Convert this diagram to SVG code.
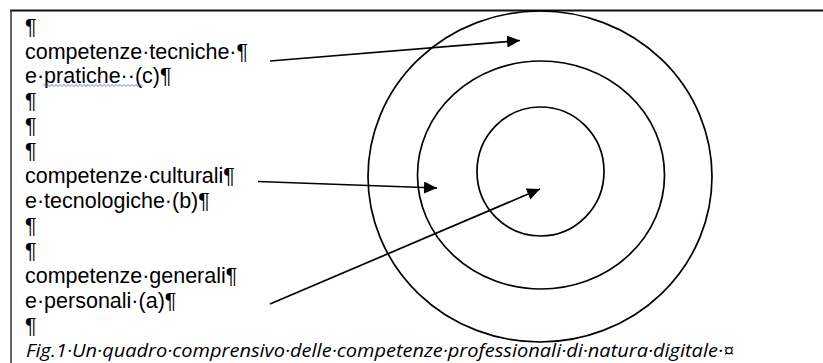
<svg xmlns="http://www.w3.org/2000/svg" width="823" height="363" viewBox="0 0 823 363">
<style>
.t{font-family:"Liberation Sans",Arial,sans-serif;font-size:21.5px;fill:#000}
.cap{font-family:"Open Sans","Liberation Sans",sans-serif;font-style:italic;font-size:19px;fill:#000}
.ring{fill:none;stroke:#000;stroke-width:1.7}
.arr{fill:none;stroke:#000;stroke-width:1.7;marker-end:url(#ah)}
</style>
<defs>
<marker id="ah" markerWidth="14" markerHeight="12" refX="13" refY="6" orient="auto" markerUnits="userSpaceOnUse">
<path d="M0,0 L13,6 L0,12 Z" fill="#000"/>
</marker>
</defs>
<rect width="823" height="363" fill="#fff"/>
<g id="frame">
<line x1="10" y1="10.5" x2="823" y2="10.5" stroke="#111" stroke-width="2"/>
<line x1="11" y1="10" x2="11" y2="363" stroke="#333" stroke-width="1.5"/>
</g>
<g id="rings">
<ellipse id="outer" class="ring" cx="540" cy="176.5" rx="172" ry="165.5"/>
<ellipse id="middle" class="ring" cx="541" cy="175" rx="123.5" ry="114"/>
<ellipse id="inner" class="ring" cx="540.5" cy="171.5" rx="63.5" ry="64.5"/>
</g>
<g id="labels">
<text class="t" x="25" y="33.5">¶</text>
<g id="label-c">
<text class="t" x="25" y="58.5">competenze·tecniche·¶</text>
<text class="t" x="25" y="83.4">e·pratiche··(c)¶</text>
<path d="M43,85.5 q1,-2 2,0 t2,0 t2,0 t2,0 t2,0 t2,0 t2,0 t2,0 t2,0 t2,0 t2,0 t2,0 t2,0 t2,0 t2,0 t2,0 t2,0 t2,0 t2,0 t2,0 t2,0 t2,0 t2,0 t2,0 t2,0 t2,0 t2,0 t2,0 t2,0 t2,0 t2,0 t2,0 t2,0 t2,0 t2,0 t2,0 t2,0 t2,0 t2,0 t2,0 t2,0 t2,0 t2,0 t2,0 t2,0 t2,0 t2,0 t2,0 t2,0 t2,0" fill="none" stroke="#5b6fd9" stroke-width="1"/>
</g>
<text class="t" x="25" y="108.4">¶</text>
<text class="t" x="25" y="133.3">¶</text>
<text class="t" x="25" y="158.2">¶</text>
<g id="label-b">
<text class="t" x="25" y="183.2">competenze·culturali¶</text>
<text class="t" x="25" y="208.1">e·tecnologiche·(b)¶</text>
</g>
<text class="t" x="25" y="233.1">¶</text>
<text class="t" x="25" y="258">¶</text>
<g id="label-a">
<text class="t" x="25" y="283">competenze·generali¶</text>
<text class="t" x="25" y="307.9">e·personali·(a)¶</text>
</g>
<text class="t" x="25" y="332.9">¶</text>
<text id="caption" class="cap" x="26" y="357" textLength="708" lengthAdjust="spacingAndGlyphs">Fig.1·Un·quadro·comprensivo·delle·competenze·professionali·di·natura·digitale·¤</text>
</g>
<g id="connectors">
<line class="arr" x1="270" y1="61" x2="520" y2="40.5"/>
<line class="arr" x1="258" y1="181.5" x2="437" y2="188"/>
<line class="arr" x1="270" y1="304" x2="540" y2="189"/>
</g>
</svg>
